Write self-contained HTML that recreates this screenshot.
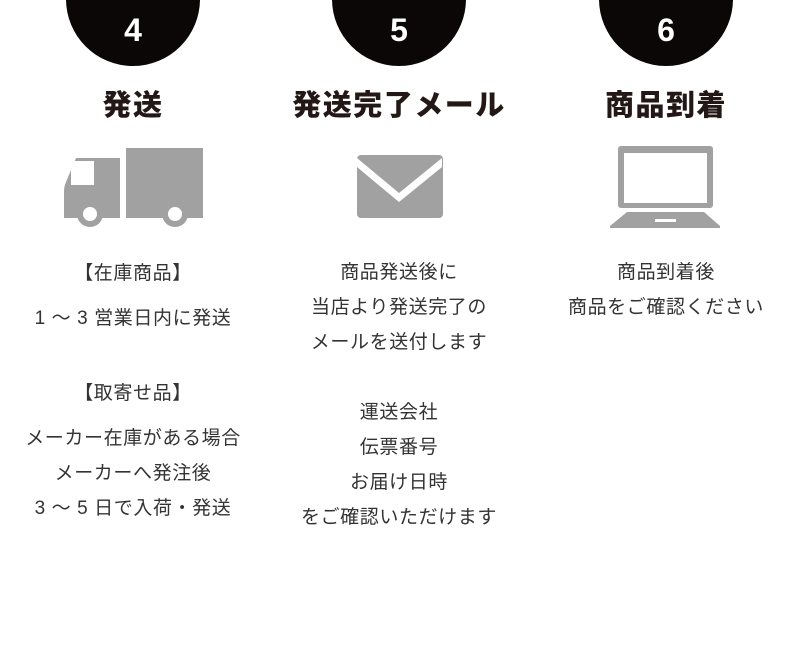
<!DOCTYPE html>
<html><head><meta charset="utf-8"><style>
body{margin:0;width:800px;height:655px;background:#fff;position:relative;overflow:hidden;font-family:"Liberation Sans","Noto Sans CJK JP",sans-serif;color:#231815}
.c{position:absolute;width:134px;height:134px;border-radius:50%;background:#0b0706;top:-68px;color:#fff;font-weight:bold;font-size:32px;text-align:center;line-height:196px}
.h{position:absolute;width:300px;text-align:center;font-size:29px;letter-spacing:1.5px;font-weight:900;top:86px;line-height:40px}
.t{position:absolute;width:300px;text-align:center;font-size:19px;letter-spacing:0.6px;line-height:20px;color:#333}
</style></head><body>
<div class="c" style="left:66px">4</div>
<div class="c" style="left:332px">5</div>
<div class="c" style="left:599px">6</div>
<div class="h" style="left:-17px">発送</div>
<div class="h" style="left:249px">発送完了メール</div>
<div class="h" style="left:516px">商品到着</div>
<svg width="800" height="240" style="position:absolute;left:0;top:0">
<g fill="#a0a1a0">
<rect x="126" y="148" width="77" height="70"/>
<path d="M76 158 H120 V218 H64 V192 Q64 186 66 182 Z"/>
<circle cx="90" cy="214" r="13"/><circle cx="175" cy="214" r="13"/>
<rect x="357" y="155" width="86" height="63" rx="4"/>
<rect x="618" y="146" width="95" height="62" rx="3"/>
<path d="M627 212 H704 L720 226 V228 H610 V226 Z"/>
</g>
<g fill="#fff">
<rect x="71" y="161" width="23" height="24"/>
<circle cx="90" cy="214" r="7"/><circle cx="175" cy="214" r="7"/>
<path d="M357 167 L399 202 L442 167 V158 L399 193 L357 158 Z" />
<rect x="624" y="153" width="83" height="50"/>
<rect x="655" y="219" width="21" height="3"/>
</g>
</svg>
<div class="t" style="left:-17px;top:264px">【在庫商品】</div>
<div class="t" style="left:-17px;top:309px">1 ～ 3 営業日内に発送</div>
<div class="t" style="left:-17px;top:384px">【取寄せ品】</div>
<div class="t" style="left:-17px;top:429px">メーカー在庫がある場合</div>
<div class="t" style="left:-17px;top:464px">メーカーへ発注後</div>
<div class="t" style="left:-17px;top:499px">3 ～ 5 日で入荷・発送</div>
<div class="t" style="left:249px;top:263px">商品発送後に</div>
<div class="t" style="left:249px;top:298px">当店より発送完了の</div>
<div class="t" style="left:249px;top:333px">メールを送付します</div>
<div class="t" style="left:249px;top:403px">運送会社</div>
<div class="t" style="left:249px;top:438px">伝票番号</div>
<div class="t" style="left:249px;top:473px">お届け日時</div>
<div class="t" style="left:249px;top:508px">をご確認いただけます</div>
<div class="t" style="left:516px;top:263px">商品到着後</div>
<div class="t" style="left:516px;top:298px">商品をご確認ください</div>
</body></html>
